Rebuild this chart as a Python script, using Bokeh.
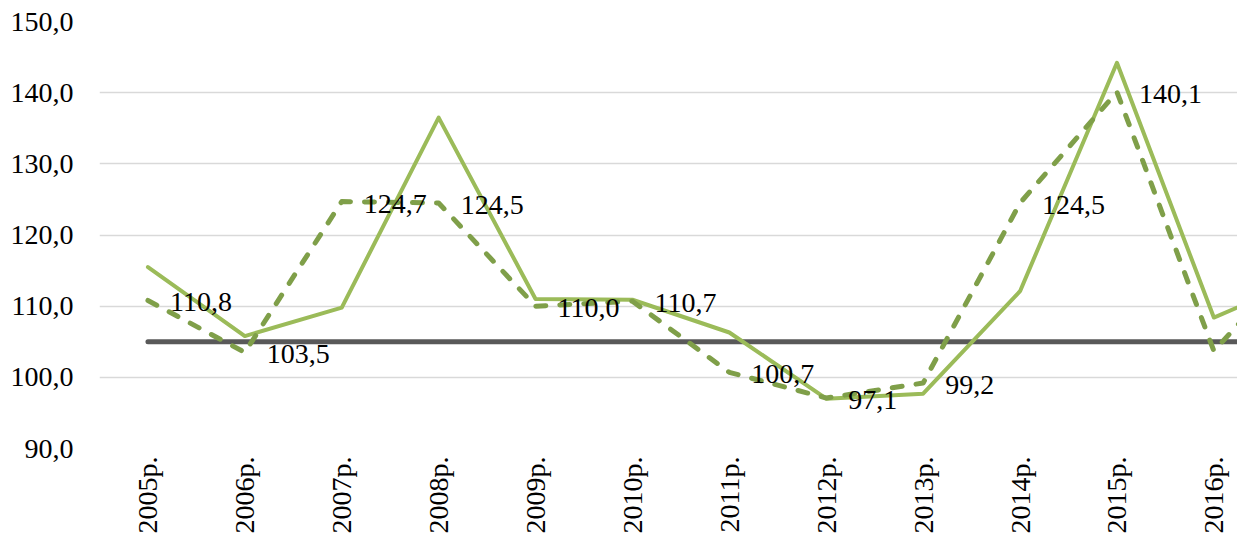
import math
from bokeh.plotting import figure
from bokeh.models import ColumnDataSource, FixedTicker, Range1d, CustomJSTickFormatter
from bokeh.core.properties import value
from bokeh.embed import file_html
from bokeh.resources import INLINE

categories = ["2005р.", "2006р.", "2007р.", "2008р.", "2009р.", "2010р.",
              "2011р.", "2012р.", "2013р.", "2014р.", "2015р.", "2016р.", "2017р."]
series_solid = [115.5, 105.8, 109.8, 136.5, 111.0, 110.9, 106.3, 97.0, 97.7, 112.1, 144.2, 108.4, 114.2]
series_dashed = [110.8, 103.5, 124.7, 124.5, 110.0, 110.7, 100.7, 97.1, 99.2, 124.5, 140.1, 103.7, 118.5]
threshold = 105.0
y_ticks = [90, 100, 110, 120, 130, 140, 150]
labelled_points = 12  # data labels shown for 2005-2016

FONT_NAME = "Liberation Serif"

idx = list(range(len(categories)))
labels = [("%.1f" % v).replace(".", ",") if i < labelled_points else ""
          for i, v in enumerate(series_dashed)]
src = ColumnDataSource(dict(x=idx, solid=series_solid, dashed=series_dashed,
                            thr=[threshold] * len(idx), label=labels))

p = figure(width=1237, height=536, output_backend="svg", toolbar_location=None,
           x_range=Range1d(-0.5, 11.244), y_range=Range1d(90, 150),
           min_border_left=99, min_border_right=0, min_border_top=21, min_border_bottom=86)
p.outline_line_color = None
p.background_fill_color = "white"
p.border_fill_color = "white"

p.xgrid.grid_line_color = None
p.ygrid.grid_line_color = "#d9d9d9"
p.ygrid.grid_line_width = 1.5
p.ygrid.ticker = FixedTicker(ticks=y_ticks)

p.yaxis.ticker = FixedTicker(ticks=y_ticks)
p.yaxis.formatter = CustomJSTickFormatter(code="return tick.toFixed(1).replace('.', ',');")
p.xaxis.ticker = FixedTicker(ticks=idx)
p.xaxis.formatter = CustomJSTickFormatter(args=dict(labels=categories),
                                          code="const i = Math.round(tick); return (i >= 0 && i < labels.length) ? labels[i] : '';")
p.xaxis.major_label_orientation = math.pi / 2

for ax in (p.xaxis, p.yaxis):
    ax.axis_line_color = None
    ax.major_tick_line_color = None
    ax.minor_tick_line_color = None
    ax.major_tick_out = 0
    ax.major_tick_in = 0
    ax.major_label_text_font = FONT_NAME
    ax.major_label_text_font_size = "28px"
    ax.major_label_text_color = "black"
p.yaxis.major_label_standoff = 26
p.xaxis.major_label_standoff = 8

p.line(x="x", y="thr", source=src, line_color="#595959", line_width=5, line_cap="round")
p.line(x="x", y="solid", source=src, line_color="#9bbb59", line_width=4,
       line_join="round", line_cap="round")
p.line(x="x", y="dashed", source=src, line_color="#7f9f49", line_width=5,
       line_dash="10 14", line_join="round", line_cap="round")
p.text(x="x", y="dashed", text="label", source=src, x_offset=22, y_offset=2,
       text_font=value(FONT_NAME), text_font_size="28px", text_baseline="middle",
       text_align="left", text_color="black")

open("out.html", "w").write(file_html(p, INLINE))
